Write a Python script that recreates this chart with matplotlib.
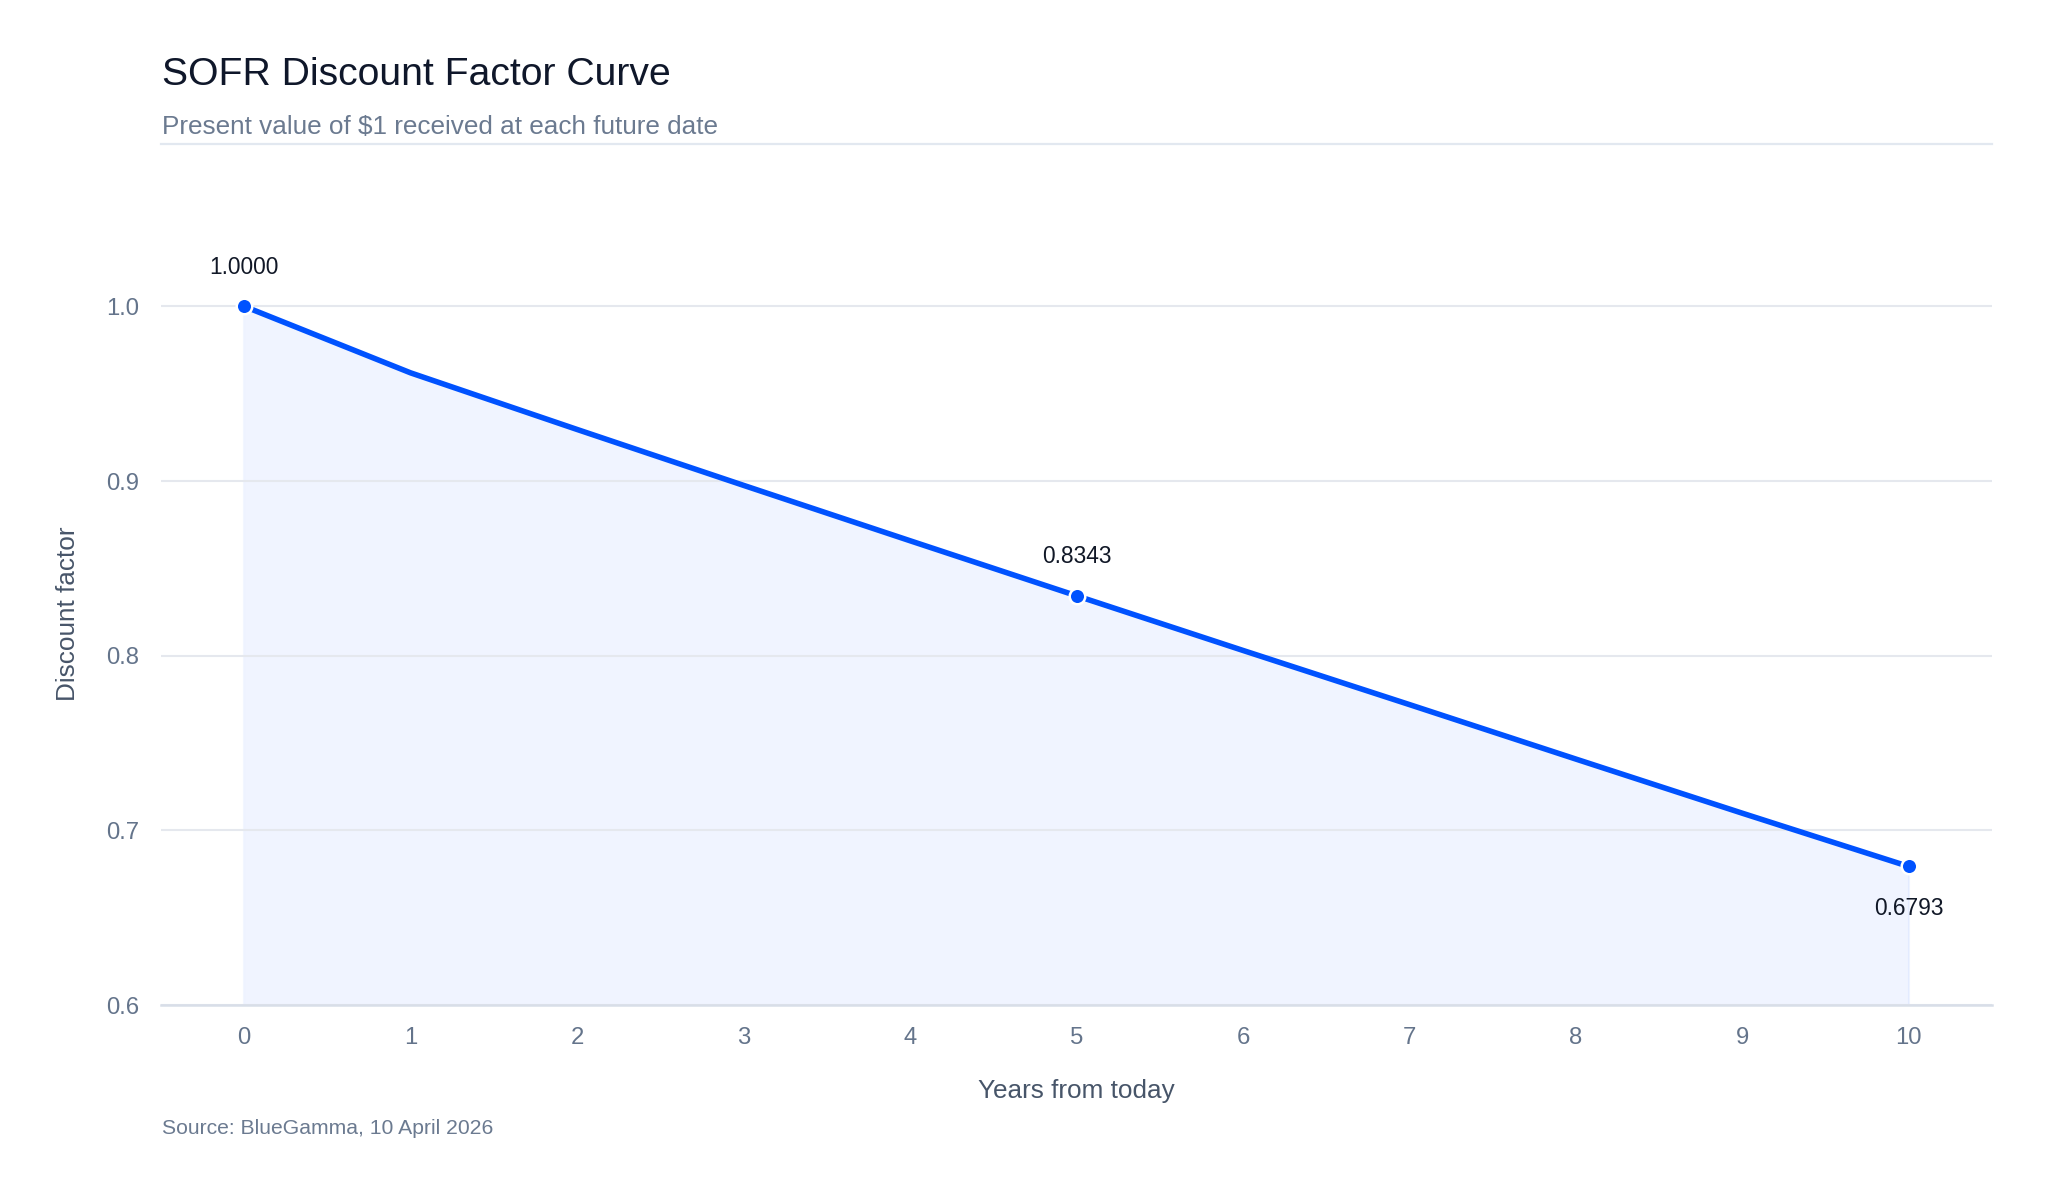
import matplotlib
matplotlib.use("Agg")
import matplotlib.pyplot as plt
from matplotlib.lines import Line2D

plt.rcParams['font.family'] = ['Liberation Sans', 'DejaVu Sans']

# ---- data ----
years = [0, 1, 2, 3, 4, 5, 6, 7, 8, 9, 10]
discount_factors = [1.0000, 0.9619, 0.9295, 0.8975, 0.8658, 0.8343,
                    0.8030, 0.7720, 0.7408, 0.7098, 0.6793]
labelled_years = [0, 5, 10]
labelled_values = [1.0000, 0.8343, 0.6793]
label_offsets = [14, 14, -15]
y_ticks = [0.6, 0.7, 0.8, 0.9, 1.0]
x_ticks = list(range(0, 11))

title = "SOFR Discount Factor Curve"
subtitle = "Present value of $1 received at each future date"
source = "Source: BlueGamma, 10 April 2026"

W, H = 2048, 1195
fig = plt.figure(figsize=(W / 200, H / 200), dpi=200)
fig.patch.set_facecolor('white')

def fx(px):
    return px / W

def fy(py):
    return 1 - py / H

ax_left, ax_right = 161, 1992
ax_top, ax_bottom = 222.5, 1005
ax = fig.add_axes([fx(ax_left), fy(ax_bottom), (ax_right - ax_left) / W, (ax_bottom - ax_top) / H])
ax.set_facecolor('white')

blue = '#0052FF'
ax.fill_between(years, discount_factors, 0.6, color=blue, alpha=0.06, lw=0, zorder=1)
ax.plot([years[0], years[0]], [0.6, discount_factors[0]], color=blue, alpha=0.05, lw=0.8, zorder=1)
ax.plot([years[-1], years[-1]], [0.6, discount_factors[-1]], color=blue, alpha=0.05, lw=0.8, zorder=1)
ax.plot(years, discount_factors, color=blue, lw=2.0, zorder=3, solid_capstyle='round')
ax.plot(labelled_years, labelled_values, 'o', color=blue, ms=5.6, mec='white', mew=0.9, zorder=4)

for xv, yv, off in zip(labelled_years, labelled_values, label_offsets):
    ax.annotate(f"{yv:.4f}", (xv, yv), xytext=(0, off), textcoords='offset points',
                ha='center', va='center', fontsize=8.2, color='#111827', zorder=5)

ax.set_xlim(-0.5, 10.5)
ax.set_ylim(0.6, 1.048)
ax.set_xticks(x_ticks)
ax.set_yticks(y_ticks)
ax.set_yticklabels([f"{v:.1f}" for v in y_ticks])
ax.grid(axis='y', color='#E5E8EE', lw=0.75, zorder=0)
ax.grid(axis='x', visible=False)
for s in ['top', 'right', 'left']:
    ax.spines[s].set_visible(False)
ax.spines['bottom'].set_color('#D8DEE8')
ax.spines['bottom'].set_linewidth(0.9)
ax.tick_params(axis='both', length=0, labelsize=8.6, labelcolor='#64748B')
ax.tick_params(axis='y', pad=8)
ax.tick_params(axis='x', pad=8)

ax.set_xlabel("Years from today", fontsize=9.4, color='#475569')
ax.xaxis.set_label_coords(0.5, (ax_bottom - 1091) / (ax_bottom - ax_top))
ax.xaxis.label.set_va('center')
ax.set_ylabel("Discount factor", fontsize=9.4, color='#475569')
ax.yaxis.set_label_coords((68 - ax_left) / (ax_right - ax_left), (ax_bottom - 614) / (ax_bottom - ax_top))
ax.yaxis.label.set_va('center')

fig.text(fx(162), fy(85), title, fontsize=14.1, color='#0F172A', ha='left', va='baseline')
fig.text(fx(162), fy(134), subtitle, fontsize=9.4, color='#6B7A90', ha='left', va='baseline')
fig.add_artist(Line2D([fx(161), fx(1992)], [fy(143.5), fy(143.5)], color='#E2E8F0', lw=0.8))
fig.text(fx(162), fy(1129), source, fontsize=7.6, color='#6B7A90', ha='left', va='center')

fig.savefig('out.png', dpi=200, facecolor='white')
